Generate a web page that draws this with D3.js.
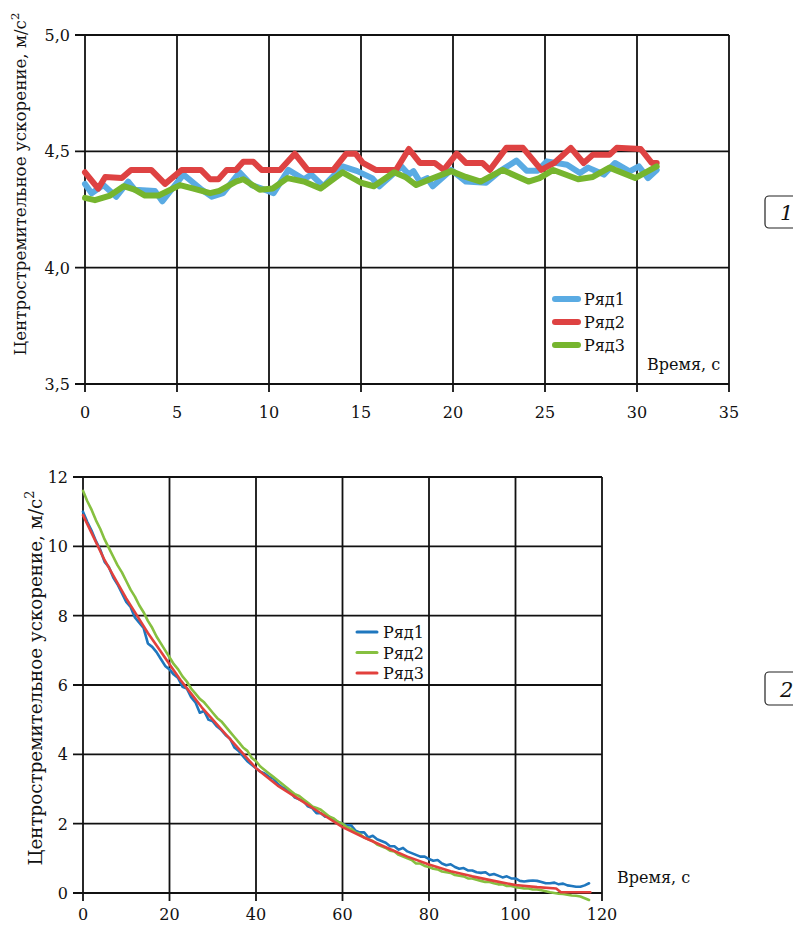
<!DOCTYPE html>
<html>
<head>
<meta charset="utf-8">
<script src="https://cdn.jsdelivr.net/npm/d3@7"></script>
<style>
  body { margin: 0; background: #fff; }
  svg text { font-family: "DejaVu Serif", "Liberation Serif", serif; fill: #111; }
</style>
</head>
<body>
<div id="chart"></div>
<script>
// ---- данные: график 1 ----
const top1T = [0, 0.36, 1.0, 1.7, 2.35, 2.7, 3.8, 4.2, 4.7, 5.35, 6.35, 6.9, 7.5, 8.4, 9.05, 9.6, 10.25, 11.05, 11.9, 12.3, 12.95, 14.0, 14.8, 15.6, 16.0, 17.2, 17.6, 17.85, 18.2, 18.6, 18.9, 19.9, 20.7, 21.8, 22.55, 23.45, 24.0, 24.6, 25.1, 26.2, 26.9, 27.35, 28.2, 28.8, 29.6, 30.1, 30.6, 31.07];
const top1V = [4.36, 4.32, 4.355, 4.305, 4.37, 4.335, 4.33, 4.285, 4.335, 4.40, 4.335, 4.305, 4.32, 4.41, 4.355, 4.34, 4.32, 4.42, 4.38, 4.40, 4.35, 4.435, 4.415, 4.385, 4.35, 4.435, 4.40, 4.415, 4.37, 4.385, 4.35, 4.42, 4.37, 4.365, 4.415, 4.46, 4.417, 4.417, 4.457, 4.442, 4.407, 4.43, 4.40, 4.45, 4.414, 4.435, 4.385, 4.42];
const top2T = [0, 0.72, 1.1, 2.0, 2.5, 3.6, 4.35, 5.25, 6.3, 6.8, 7.25, 7.7, 8.2, 8.6, 9.15, 9.6, 10.6, 11.4, 12.1, 13.5, 14.2, 14.7, 15.1, 15.8, 16.9, 17.6, 18.2, 19.0, 19.5, 20.2, 20.7, 21.6, 22.0, 22.9, 23.8, 24.8, 25.5, 26.4, 27.1, 27.6, 28.5, 28.9, 30.2, 30.8, 31.07];
const top2V = [4.41, 4.34, 4.39, 4.385, 4.42, 4.42, 4.36, 4.42, 4.42, 4.38, 4.38, 4.42, 4.42, 4.455, 4.455, 4.42, 4.42, 4.49, 4.42, 4.42, 4.49, 4.49, 4.45, 4.42, 4.42, 4.51, 4.45, 4.45, 4.42, 4.49, 4.45, 4.45, 4.42, 4.515, 4.515, 4.42, 4.45, 4.515, 4.45, 4.485, 4.485, 4.515, 4.51, 4.45, 4.45];
const top3T = [0, 0.54, 1.36, 2.1, 2.7, 3.26, 4.0, 5.16, 5.9, 6.8, 7.3, 8.2, 8.6, 9.5, 10.2, 11.0, 11.9, 12.8, 14.0, 15.0, 15.7, 16.8, 17.4, 18.0, 18.75, 19.9, 20.7, 21.5, 22.7, 24.1, 24.7, 25.45, 26.8, 27.6, 28.5, 29.9, 31.07];
const top3V = [4.30, 4.29, 4.31, 4.35, 4.335, 4.31, 4.31, 4.355, 4.34, 4.32, 4.33, 4.37, 4.38, 4.335, 4.34, 4.385, 4.37, 4.34, 4.41, 4.365, 4.35, 4.41, 4.39, 4.355, 4.38, 4.415, 4.39, 4.37, 4.42, 4.37, 4.385, 4.42, 4.38, 4.39, 4.43, 4.385, 4.435];
const top1Ticks = [0, 5, 10, 15, 20, 25, 30, 35];
const top1YTicks = [3.5, 4.0, 4.5, 5.0];

// ---- данные: график 2 ----
const bot1T = d3.range(0, 118);
const bot1V = [11.0, 10.7, 10.45, 10.15, 9.9, 9.55, 9.4, 9.1, 8.9, 8.65, 8.4, 8.25, 7.95, 7.8, 7.65, 7.2, 7.1, 6.95, 6.75, 6.55,
  6.45, 6.3, 6.2, 5.95, 5.9, 5.65, 5.5, 5.2, 5.25, 5.0, 4.95, 4.8, 4.7, 4.55, 4.45, 4.2, 4.1, 3.95, 3.8, 3.7,
  3.6, 3.5, 3.45, 3.35, 3.3, 3.15, 3.05, 3.0, 2.9, 2.75, 2.7, 2.65, 2.5, 2.45, 2.3, 2.3, 2.2, 2.2, 2.1, 2.05,
  2.0, 1.95, 1.95, 1.8, 1.75, 1.75, 1.6, 1.65, 1.55, 1.5, 1.45, 1.35, 1.35, 1.25, 1.3, 1.2, 1.15, 1.1, 1.05, 1.05,
  0.98, 0.93, 0.95, 0.85, 0.8, 0.83, 0.75, 0.7, 0.72, 0.65, 0.65, 0.6, 0.58, 0.6, 0.52, 0.55, 0.5, 0.45, 0.48, 0.42,
  0.42, 0.35, 0.33, 0.35, 0.36, 0.35, 0.32, 0.28, 0.28, 0.3, 0.25, 0.27, 0.22, 0.2, 0.18, 0.18, 0.22, 0.28];
const bot2T = d3.range(0, 118);
const bot2V = [11.6, 11.3, 11.05, 10.75, 10.5, 10.2, 9.95, 9.7, 9.45, 9.25, 9.0, 8.75, 8.55, 8.3, 8.1, 7.85, 7.65, 7.4, 7.2, 7.0,
  6.8, 6.6, 6.45, 6.25, 6.1, 5.9, 5.75, 5.6, 5.5, 5.35, 5.2, 5.05, 4.95, 4.8, 4.65, 4.5, 4.35, 4.2, 4.1, 3.9,
  3.8, 3.65, 3.55, 3.45, 3.35, 3.25, 3.15, 3.05, 2.95, 2.85, 2.8, 2.7, 2.6, 2.5, 2.45, 2.4, 2.3, 2.2, 2.15, 2.05,
  2.0, 1.9, 1.85, 1.75, 1.7, 1.6, 1.55, 1.5, 1.4, 1.35, 1.3, 1.22, 1.2, 1.1, 1.05, 1.0, 0.95, 0.85, 0.85, 0.78,
  0.75, 0.7, 0.68, 0.62, 0.6, 0.58, 0.52, 0.5, 0.48, 0.42, 0.42, 0.38, 0.35, 0.32, 0.32, 0.28, 0.25, 0.25, 0.2, 0.2,
  0.17, 0.15, 0.13, 0.13, 0.1, 0.1, 0.08, 0.05, 0.02, 0.0, -0.02, -0.03, -0.05, -0.07, -0.08, -0.1, -0.15, -0.2];
const bot3T = [0, 2.5, 5, 7.5, 10, 12.5, 15, 17.5, 20, 22.5, 25, 27.5, 30, 32.5, 35, 37.5, 40, 45, 50, 55, 60, 65, 70, 75, 80, 85, 90, 95, 100, 105, 109.4, 110.5, 117.3];
const bot3V = [10.9, 10.25, 9.6, 9.05, 8.5, 8.0, 7.5, 7.05, 6.6, 6.15, 5.75, 5.35, 5.0, 4.65, 4.3, 3.95, 3.6, 3.1, 2.7, 2.3, 1.9, 1.6, 1.32, 1.05, 0.82, 0.63, 0.48, 0.35, 0.23, 0.17, 0.13, 0.02, 0.02];
const bot1Ticks = [0, 20, 40, 60, 80, 100, 120];
const bot1YTicks = [0, 2, 4, 6, 8, 10, 12];

const seriesNames = ['Ряд1', 'Ряд2', 'Ряд3'];
const yTitle = 'Центростремительное ускорение, м/с';
const xTitle = 'Время, с';

const W = 793, H = 926;
const svg = d3.select('#chart').append('svg')
  .attr('width', W).attr('height', H)
  .attr('viewBox', `0 0 ${W} ${H}`);

const zip = (t, v) => t.map((d, i) => [d, v[i]]);

function drawChart(cfg) {
  const x = d3.scaleLinear().domain(cfg.xDomain).range([cfg.left, cfg.right]);
  const y = d3.scaleLinear().domain(cfg.yDomain).range([cfg.bottom, cfg.top]);
  const g = svg.append('g');

  // сетка
  g.append('g').selectAll('line').data(cfg.xTicks).enter().append('line')
    .attr('x1', d => x(d)).attr('x2', d => x(d))
    .attr('y1', cfg.top).attr('y2', cfg.bottom + 8)
    .attr('stroke', '#111').attr('stroke-width', 1.8);
  g.append('g').selectAll('line').data(cfg.yTicks).enter().append('line')
    .attr('x1', cfg.left - 10).attr('x2', cfg.right)
    .attr('y1', d => y(d)).attr('y2', d => y(d))
    .attr('stroke', '#111').attr('stroke-width', 1.8);

  // подписи делений
  g.append('g').selectAll('text').data(cfg.xTicks).enter().append('text')
    .attr('x', d => x(d)).attr('y', cfg.bottom + cfg.xLabOff)
    .attr('text-anchor', 'middle').attr('font-size', 16)
    .text(d => d);
  g.append('g').selectAll('text').data(cfg.yTicks).enter().append('text')
    .attr('x', cfg.left - 15).attr('y', d => y(d) + 6)
    .attr('text-anchor', 'end').attr('font-size', 16)
    .text(cfg.yFormat);

  // линии
  const line = d3.line().x(d => x(d[0])).y(d => y(d[1]));
  cfg.series.forEach(s => {
    g.append('path').datum(zip(s.t, s.v))
      .attr('d', line)
      .attr('fill', 'none').attr('stroke', s.color)
      .attr('stroke-width', cfg.lw)
      .attr('stroke-linejoin', 'round').attr('stroke-linecap', 'round');
  });

  // легенда
  cfg.legend.forEach((s, i) => {
    const ly = cfg.legY + i * cfg.legStep;
    g.append('line')
      .attr('x1', cfg.legX).attr('x2', cfg.legX + cfg.legW)
      .attr('y1', ly).attr('y2', ly)
      .attr('stroke', s.color).attr('stroke-width', cfg.legLw)
      .attr('stroke-linecap', 'round');
    g.append('text')
      .attr('x', cfg.legX + cfg.legW + 6).attr('y', ly + 6)
      .attr('font-size', 16).text(s.name);
  });

  // подпись оси X
  g.append('text').attr('x', cfg.xtX).attr('y', cfg.xtY)
    .attr('font-size', 16).text(xTitle);

  // подпись оси Y
  const yt = g.append('text')
    .attr('transform', `translate(${cfg.ytX},${cfg.ytY}) rotate(-90)`)
    .attr('text-anchor', 'middle').attr('font-size', 16);
  yt.append('tspan').text(yTitle);
  yt.append('tspan').attr('dy', -7).attr('font-size', 11).text('2');
  const len = yt.node().getComputedTextLength();
  const fs = 16 * cfg.ytLen / len;
  yt.attr('font-size', fs);
  yt.select('tspan:nth-child(2)').attr('font-size', fs * 0.7).attr('dy', -fs * 0.42);

  // номер в рамке
  g.append('rect').attr('x', 765).attr('y', cfg.boxY)
    .attr('width', 40).attr('height', cfg.boxH).attr('rx', 4)
    .attr('fill', 'none').attr('stroke', '#222').attr('stroke-width', 1.2);
  g.append('text').attr('x', 780).attr('y', cfg.boxY + cfg.boxH - 8)
    .attr('font-size', 21).attr('font-style', 'italic')
    .text(cfg.boxLabel);
}

const top1Series = [
  { name: seriesNames[0], t: top1T, v: top1V, color: '#5aabe3' },
  { name: seriesNames[1], t: top2T, v: top2V, color: '#de4242' },
  { name: seriesNames[2], t: top3T, v: top3V, color: '#76b52e' }
];
drawChart({
  xDomain: [0, 35], yDomain: [3.5, 5.0],
  left: 85, right: 729, top: 35, bottom: 384,
  xTicks: top1Ticks, yTicks: top1YTicks, xLabOff: 34,
  yFormat: d => d3.format('.1f')(d).replace('.', ','),
  series: top1Series, legend: top1Series, lw: 6,
  legX: 555, legY: 299, legStep: 23, legW: 23, legLw: 6,
  xtX: 647, xtY: 370,
  ytX: 26, ytY: 184, ytLen: 343,
  boxY: 196, boxH: 32, boxLabel: '1'
});

const bot1Series = [
  { name: seriesNames[0], t: bot1T, v: bot1V, color: '#1f77be' },
  { name: seriesNames[1], t: bot2T, v: bot2V, color: '#86c040' },
  { name: seriesNames[2], t: bot3T, v: bot3V, color: '#e2403c' }
];
drawChart({
  xDomain: [0, 120], yDomain: [0, 12],
  left: 83, right: 602, top: 477, bottom: 893,
  xTicks: bot1Ticks, yTicks: bot1YTicks, xLabOff: 27,
  yFormat: d => d,
  series: bot1Series, legend: bot1Series, lw: 2.6,
  legX: 357, legY: 632, legStep: 20.5, legW: 20, legLw: 3,
  xtX: 617, xtY: 883,
  ytX: 42, ytY: 678, ytLen: 375,
  boxY: 672, boxH: 33, boxLabel: '2'
});
</script>
</body>
</html>
